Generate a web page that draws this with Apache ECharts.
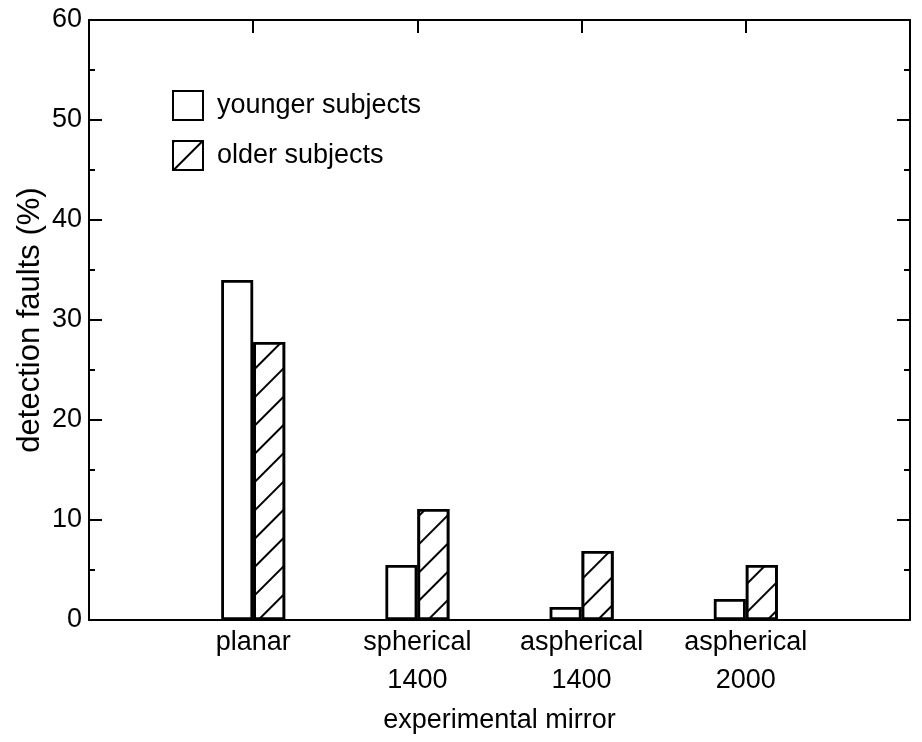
<!DOCTYPE html>
<html><head><meta charset="utf-8">
<script src="https://cdn.jsdelivr.net/npm/echarts@6/dist/echarts.min.js"></script>
<style>html,body{margin:0;padding:0;background:#fff}#c{width:922px;height:742px}</style>
</head><body><div id="c"></div>
<script>
var categories = ['', 'planar', 'spherical\n1400', 'aspherical\n1400', 'aspherical\n2000', ''];
var younger = [null, 34, 5.5, 1.3, 2.1, null];
var older = [null, 27.8, 11.1, 6.9, 5.5, null];
var seriesNames = ['younger subjects', 'older subjects'];
var yTicks = [0, 10, 20, 30, 40, 50, 60];

var FONT = 'Liberation Sans';
var chart = echarts.init(document.getElementById('c'), null, {renderer: 'canvas'});
var hatch = {
  symbol: 'rect', symbolSize: 1, rotation: -Math.PI / 4,
  dashArrayX: [1, 0], dashArrayY: [2, 18], color: '#000', backgroundColor: '#fff'
};
var axisLine = {show: true, onZero: false, lineStyle: {color: '#000', width: 2}};
chart.setOption({
  animation: false,
  backgroundColor: '#fff',
  textStyle: {fontFamily: FONT, color: '#000'},
  grid: {left: 89, right: 12, top: 20, bottom: 122},
  legend: {
    orient: 'vertical', left: 172, top: 90, padding: 0, icon: 'rect',
    itemWidth: 30, itemHeight: 29, itemGap: 19,
    textStyle: {fontFamily: FONT, fontSize: 27, color: '#000', padding: [0, 0, 0, 9]},
    data: seriesNames
  },
  xAxis: [{
    type: 'category', data: categories, boundaryGap: false, position: 'bottom',
    axisLine: axisLine, axisTick: {show: false, length: 0},
    axisLabel: {fontFamily: FONT, fontSize: 27, color: '#000', margin: 4, lineHeight: 38,
      interval: 0},
    name: 'experimental mirror', nameLocation: 'middle', nameGap: 87, nameMoveOverlap: false,
    nameTextStyle: {fontFamily: FONT, fontSize: 27, color: '#000'}
  }, {
    type: 'category', data: categories, boundaryGap: false, position: 'top',
    axisLine: axisLine,
    axisTick: {show: true, inside: true, length: 13, lineStyle: {color: '#000', width: 2},
      interval: function (i) { return i > 0 && i < categories.length - 1; }},
    axisLabel: {show: false}
  }],
  yAxis: [{
    type: 'value', min: yTicks[0], max: yTicks[yTicks.length - 1], interval: 10, position: 'left',
    axisLine: axisLine, splitLine: {show: false},
    axisTick: {show: true, inside: true, length: 13, lineStyle: {color: '#000', width: 2}},
    minorTick: {show: true, splitNumber: 2, length: 6, lineStyle: {color: '#000', width: 2}},
    axisLabel: {fontFamily: FONT, fontSize: 27, color: '#000', margin: 7},
    name: 'detection faults (%)', nameLocation: 'middle', nameGap: 43, nameRotate: 90,
    nameMoveOverlap: false,
    nameTextStyle: {fontFamily: FONT, fontSize: 31, color: '#000'}
  }, {
    type: 'value', min: yTicks[0], max: yTicks[yTicks.length - 1], interval: 10, position: 'right',
    axisLine: axisLine, splitLine: {show: false},
    axisTick: {show: true, inside: true, length: 13, lineStyle: {color: '#000', width: 2}},
    minorTick: {show: true, splitNumber: 2, length: 6, lineStyle: {color: '#000', width: 2}},
    axisLabel: {show: false}
  }],
  series: [{
    name: seriesNames[0], type: 'bar', data: younger, barWidth: 32, barGap: '0%',
    itemStyle: {color: '#fff', borderColor: '#000', borderWidth: 2.8}
  }, {
    name: seriesNames[1], type: 'bar', data: older, barWidth: 32, barGap: '0%',
    itemStyle: {color: '#fff', borderColor: '#000', borderWidth: 2.8, decal: hatch}
  }]
});
</script></body></html>
